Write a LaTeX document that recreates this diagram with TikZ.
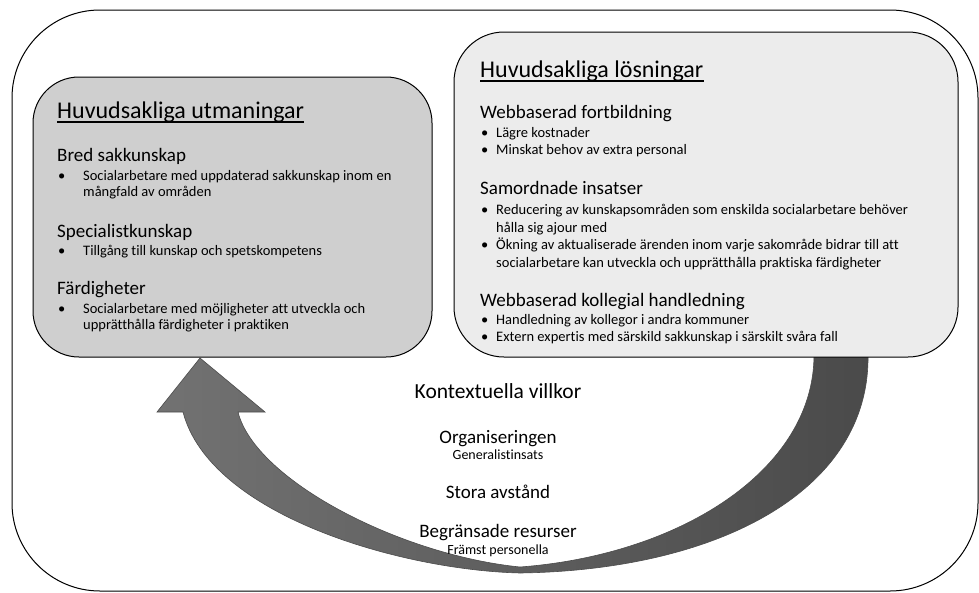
\documentclass[tikz,border=0pt]{standalone}
\usepackage{fontspec}
\setmainfont{Carlito}[Ligatures=NoCommon]
\definecolor{boxL}{RGB}{207,207,207}
\definecolor{boxR}{RGB}{236,236,236}
\definecolor{arrL}{RGB}{114,114,114}
\definecolor{arrR}{RGB}{74,74,74}
\tikzset{
  ttl/.style={font=\fontsize{24}{28}\selectfont, anchor=base west, inner sep=0pt},
  hd/.style={font=\fontsize{19}{23}\selectfont, anchor=base west, inner sep=0pt},
  bt/.style={font=\fontsize{14.5}{17}\selectfont, anchor=base west, inner sep=0pt},
  ctrbig/.style={font=\fontsize{21.5}{25}\selectfont, anchor=base, inner sep=0pt},
  ctrmid/.style={font=\fontsize{19}{23}\selectfont, anchor=base, inner sep=0pt},
  ctrsmall/.style={font=\fontsize{14}{17}\selectfont, anchor=base, inner sep=0pt},
  uline/.style={line width=1.3pt},
  framebox/.style={draw=black, line width=1pt},
}
\begin{document}
\begin{tikzpicture}[x=1pt,y=-1pt]
\useasboundingbox (0,0) rectangle (979,592);
% outer frame
\draw[framebox, fill=white, rounded corners=88pt] (12,10) rectangle (978,591);
% curved arrow
\path[draw=black!70, line width=0.6pt, left color=arrL, right color=arrR]
  (868,355) .. controls (870,490) and (720,570) .. (520,573)
  .. controls (400,570) and (210,515) .. (183,412)
  -- (157,412) -- (200,358) -- (265,412) -- (238,412)
  .. controls (255,480) and (400,555) .. (520,567)
  .. controls (680,555) and (814,470) .. (814,355) -- cycle;
% left box
\draw[framebox, fill=boxL, rounded corners=46pt] (33,77) rectangle (432,357);
\node[ttl] (lt) at (57,118) {Huvudsakliga utmaningar};
\draw[uline] ([yshift=-4pt]lt.base west) -- ([yshift=-4pt]lt.base east);
\node[hd] (lh1) at (57,161) {Bred sakkunskap};
\node[bt] (lb1) at (58,180) {•};
\node[bt] (lt1a) at (83,180) {Socialarbetare med uppdaterad sakkunskap inom en};
\node[bt] (lt1b) at (83,196) {mångfald av områden};
\node[hd] (lh2) at (57,237) {Specialistkunskap};
\node[bt] (lb2) at (58,255) {•};
\node[bt] (lt2a) at (83,255) {Tillgång till kunskap och spetskompetens};
\node[hd] (lh3) at (57,294) {Färdigheter};
\node[bt] (lb3) at (58,313) {•};
\node[bt] (lt3a) at (83,313) {Socialarbetare med möjligheter att utveckla och};
\node[bt] (lt3b) at (83,329) {upprätthålla färdigheter i praktiken};
% right box
\draw[framebox, fill=boxR, rounded corners=50pt] (454,32) rectangle (958,357);
\node[ttl] (rt) at (480,77) {Huvudsakliga lösningar};
\draw[uline] ([yshift=-4pt]rt.base west) -- ([yshift=-4pt]rt.base east);
\node[hd] (rh1) at (480,118) {Webbaserad fortbildning};
\node[bt] (rb1) at (481,137) {•};
\node[bt] (rt1) at (496,137) {Lägre kostnader};
\node[bt] (rb2) at (481,154) {•};
\node[bt] (rt2) at (496,154) {Minskat behov av extra personal};
\node[hd] (rh2) at (480,194) {Samordnade insatser};
\node[bt] (rb3) at (481,214) {•};
\node[bt] (rt3a) at (496,214) {Reducering av kunskapsområden som enskilda socialarbetare behöver};
\node[bt] (rt3b) at (496,232) {hålla sig ajour med};
\node[bt] (rb4) at (481,249) {•};
\node[bt] (rt4a) at (496,249) {Ökning av aktualiserade ärenden inom varje sakområde bidrar till att};
\node[bt] (rt4b) at (496,267) {socialarbetare kan utveckla och upprätthålla praktiska färdigheter};
\node[hd] (rh3) at (480,306) {Webbaserad kollegial handledning};
\node[bt] (rb5) at (481,324) {•};
\node[bt] (rt5) at (496,324) {Handledning av kollegor i andra kommuner};
\node[bt] (rb6) at (481,341) {•};
\node[bt] (rt6) at (496,341) {Extern expertis med särskild sakkunskap i särskilt svåra fall};
% centre texts
\node[ctrbig] (c1) at (498,398) {Kontextuella villkor};
\node[ctrmid] (c2) at (498,443) {Organiseringen};
\node[ctrsmall] (c3) at (498,459) {Generalistinsats};
\node[ctrmid] (c4) at (498,498) {Stora avstånd};
\node[ctrmid] (c5) at (498,537) {Begränsade resurser};
\node[ctrsmall] (c6) at (498,554) {Främst personella};
\end{tikzpicture}
\end{document}
